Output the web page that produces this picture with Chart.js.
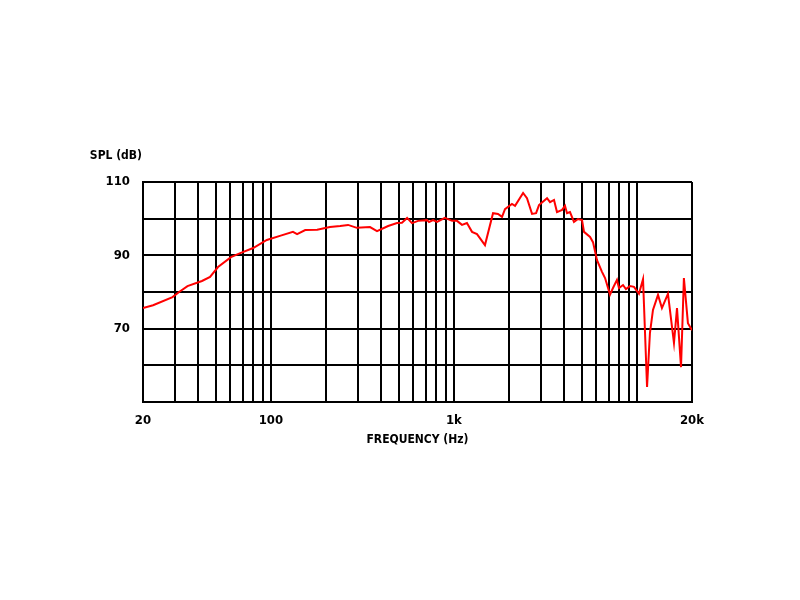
<!DOCTYPE html>
<html>
<head>
<meta charset="utf-8">
<script src="https://cdn.jsdelivr.net/npm/chart.js@4"></script>
<style>
  html, body { margin: 0; padding: 0; background: #fff; }
  #wrap { width: 800px; height: 600px; }
</style>
</head>
<body>
<div id="wrap"><canvas id="spl" width="800" height="600"></canvas></div>
<script>
// frequency response
const freqHz = [20, 22.7, 29, 31.5, 35, 42, 46.5, 51.4, 60.5, 68, 80, 95, 112, 132, 139, 154, 179,
  210, 239, 264, 295, 348, 380, 437, 489, 520, 555, 590, 637, 713, 731, 769, 809, 893, 977,
  1040, 1107, 1178, 1256, 1337, 1478, 1636, 1742, 1832, 1902, 2076, 2158, 2388, 2508, 2672,
  2812, 2918, 3228, 3352, 3524, 3658, 3900, 4046, 4150, 4308, 4530, 4764, 5012, 5140, 5546,
  5754, 6054, 6444, 6698, 7130, 7400, 7780, 7980, 8396, 8710, 9160, 9640, 10260, 10800,
  11360, 11780, 12240, 13040, 13700, 14780, 15940, 16560, 17420, 18060, 19000, 20000];
const splDb = [75.6, 76.4, 78.6, 80, 81.6, 83, 84.1, 86.8, 89.5, 90.6, 92, 94.2, 95.3, 96.4, 95.8, 96.9, 97,
  97.7, 98, 98.3, 97.5, 97.7, 96.6, 98, 98.8, 98.9, 100.2, 98.8, 99.4, 99.6, 99.1, 99.6, 99.1, 100.2, 99.4,
  99.4, 98.3, 98.8, 96.4, 95.8, 92.8, 101.5, 101.3, 100.5, 102.6, 104, 103.5, 107, 105.6, 101.3,
  101.5, 103.7, 105.6, 104.5, 105.1, 101.8, 102.4, 103.5, 101.5, 101.8, 99.1, 99.9, 99.6, 96.4, 95,
  93.6, 88.7, 85.5, 83.8, 79.3, 81.1, 83.3, 81.1, 81.9, 80.8, 81.6, 81.4, 79.5, 83.5,
  54.1, 68.8, 75.1, 79.2, 75.6, 79.5, 66.1, 75.6, 59.5, 83.8, 71.5, 69.6];

// grid and tick labels
const xGrid = [20, 30, 40, 50, 60, 70, 80, 90, 100, 200, 300, 400, 500, 600, 700, 800, 900,
  1000, 2000, 3000, 4000, 5000, 6000, 7000, 8000, 9000, 10000, 20000];
const xLabels = { 20: '20', 100: '100', 1000: '1k', 20000: '20k' };
const yLabels = [110, 90, 70];

const fontFam = "'Liberation Sans Narrow', 'DejaVu Sans Condensed', 'Arial Narrow', sans-serif";

const sideTitle = {
  id: 'sideTitle',
  afterDraw(chart) {
    const c = chart.ctx, a = chart.chartArea;
    c.save();
    c.font = 'bold 12px ' + fontFam;
    c.fillStyle = '#000';
    c.textAlign = 'right';
    c.textBaseline = 'middle';
    c.fillText('SPL (dB)', a.left - 1, a.top - 26);
    c.restore();
  }
};

new Chart(document.getElementById('spl'), {
  type: 'line',
  data: {
    datasets: [{
      data: freqHz.map((f, i) => ({ x: f, y: splDb[i] })),
      borderColor: '#ff0000',
      borderWidth: 2,
      pointRadius: 0,
      tension: 0,
      fill: false
    }]
  },
  options: {
    responsive: false,
    animation: false,
    layout: { padding: { left: 0, right: 108, top: 182, bottom: 138 } },
    plugins: { legend: { display: false }, tooltip: { enabled: false } },
    scales: {
      x: {
        type: 'logarithmic',
        min: 20,
        max: 20000,
        afterBuildTicks: s => { s.ticks = xGrid.map(v => ({ value: v })); },
        afterFit: s => { s.height = 60; },
        grid: { color: '#000', lineWidth: 2, drawTicks: false },
        border: { color: '#000', width: 2 },
        ticks: {
          autoSkip: false, maxRotation: 0, padding: 11, color: '#000',
          font: { family: fontFam, size: 13, weight: 'bold' },
          callback: v => xLabels[v] || ''
        },
        title: {
          display: true, text: 'FREQUENCY (Hz)', color: '#000',
          font: { family: fontFam, size: 12, weight: 'bold' },
          padding: { top: 0, bottom: 15 }
        }
      },
      y: {
        min: 50,
        max: 110,
        afterFit: s => { s.width = 143; },
        grid: { color: '#000', lineWidth: 2, drawTicks: false },
        border: { color: '#000', width: 2 },
        ticks: {
          stepSize: 10, padding: 13, color: '#000',
          font: { family: fontFam, size: 13, weight: 'bold' },
          callback: v => yLabels.includes(v) ? String(v) : ''
        }
      }
    }
  },
  plugins: [sideTitle]
});
</script>
</body>
</html>
